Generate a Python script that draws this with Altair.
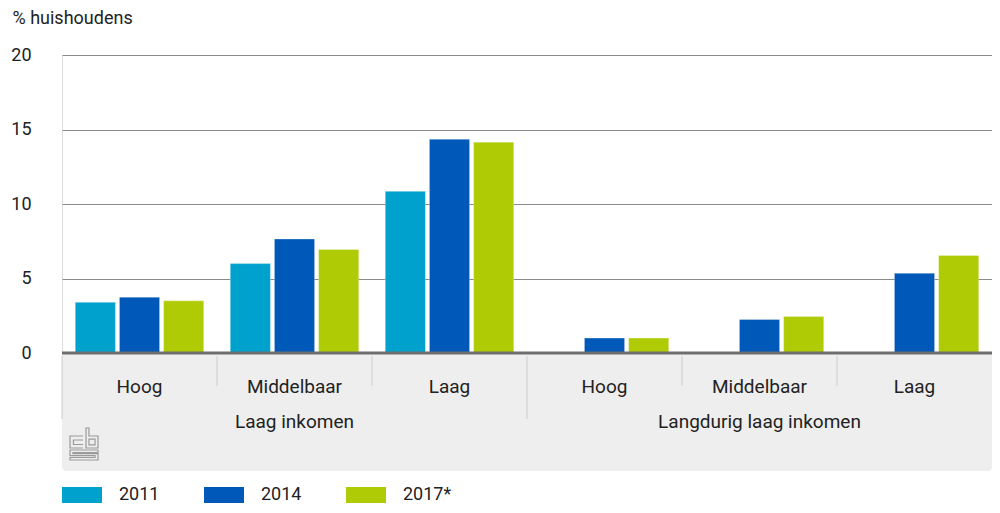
import altair as alt
import pandas as pd

groups = ["Laag inkomen", "Langdurig laag inkomen"]
subs = ["Hoog", "Middelbaar", "Laag"]
years = ["2011", "2014", "2017*"]
colors = ["#00a1cd", "#0058b8", "#afcb05"]

# values per year, in order: Laag inkomen (Hoog, Middelbaar, Laag), Langdurig (Hoog, Middelbaar, Laag)
v2011 = [3.4, 6.0, 10.85, None, None, None]
v2014 = [3.75, 7.65, 14.35, 1.0, 2.25, 5.35]
v2017 = [3.5, 6.95, 14.15, 1.0, 2.45, 6.55]

keys = [f"{g}|{s}" for g in groups for s in subs]
rows = []
for yr, vals in zip(years, [v2011, v2014, v2017]):
    for k, v in zip(keys, vals):
        rows.append({"key": k, "year": yr, "value": v})
bars_df = pd.DataFrame(rows)

lab_df = pd.DataFrame({"key": keys, "sub": [s for g in groups for s in subs]})
grp_df = pd.DataFrame({"key": [f"{g}|Middelbaar" for g in groups], "group": groups})
sep_df = pd.DataFrame({"key": keys, "long": [1, 0, 0, 1, 0, 0]})

FONT = "Roboto"
TXT = "#222222"
W, H = 930, 298

xscale = alt.Scale(domain=keys, paddingInner=0, paddingOuter=0)
xenc = alt.X("key:N", scale=xscale, axis=None)

base_bg = alt.Chart(pd.DataFrame({"a": [0]})).mark_rect(
    color="#eeeeee", cornerRadiusBottomLeft=4, cornerRadiusBottomRight=4
).encode(x=alt.value(0), x2=alt.value(W), y=alt.value(H), y2=alt.value(H + 118))

bars = alt.Chart(bars_df).mark_bar(stroke="white", strokeWidth=0.6, strokeOpacity=0.5).encode(
    x=xenc,
    xOffset=alt.XOffset("year:N", scale=alt.Scale(domain=years, paddingInner=0.0909, paddingOuter=0.3)),
    y=alt.Y("value:Q", scale=alt.Scale(domain=[0, 20]),
            axis=alt.Axis(values=[0, 5, 10, 15, 20], grid=True, gridColor="#8a8a8a", gridWidth=1,
                          domain=False, ticks=False, labelPadding=31, labelFont=FONT, labelFontSize=18,
                          labelColor=TXT, title="% huishoudens", titleAngle=0, titleAlign="left",
                          titleBaseline="middle", titleX=-50, titleY=-37, titleFont=FONT,
                          titleFontSize=18, titleFontWeight="normal", titleColor=TXT)),
    color=alt.Color("year:N", scale=alt.Scale(domain=years, range=colors),
                    legend=alt.Legend(orient="none", legendX=0, legendY=420, direction="horizontal",
                                      title=None, symbolType="M-1,-0.4H1V0.4H-1Z", symbolSize=1600,
                                      symbolStrokeWidth=0, labelFont=FONT, labelFontSize=18,
                                      labelColor=TXT, labelOffset=17, columnPadding=44,
                                      symbolOpacity=1)),
)

zero = alt.Chart(pd.DataFrame({"a": [0]})).mark_rule(color="#6e6e6e", strokeWidth=3).encode(
    y=alt.datum(0), x=alt.value(0), x2=alt.value(W))

seps_short = alt.Chart(sep_df).transform_filter("datum.long == 0").mark_rule(
    color="#cccccc", strokeWidth=1).encode(
    x=alt.X("key:N", scale=xscale, axis=None, bandPosition=0),
    y=alt.value(H + 3), y2=alt.value(H + 33))
seps_long = alt.Chart(sep_df).transform_filter("datum.long == 1").mark_rule(
    color="#cccccc", strokeWidth=1).encode(
    x=alt.X("key:N", scale=xscale, axis=None, bandPosition=0),
    y=alt.value(H + 3), y2=alt.value(H + 66))

sub_txt = alt.Chart(lab_df).mark_text(font=FONT, fontSize=19, color=TXT, baseline="alphabetic").encode(
    x=xenc, text="sub:N", y=alt.value(H + 40))
grp_txt = alt.Chart(grp_df).mark_text(font=FONT, fontSize=19, color=TXT, baseline="alphabetic").encode(
    x=xenc, text="group:N", y=alt.value(H + 75))

# rough outline of the CBS logo
LOGO = ("M-0.06,-0.5H-0.875V0.25H-0.06"
        "M-0.06,-0.25H-0.66V0.03H-0.06"
        "M0.125,-1V0.25H0.875V-0.5H0.31V-1Z"
        "M0.31,-0.31H0.69V0.06H0.31Z"
        "M0.875,0.375H-0.875V0.72H0.69V0.84H-0.875V1H0.875V0.6H-0.69V0.53H0.875Z")
logo = alt.Chart(pd.DataFrame({"a": [0]})).mark_point(
    shape=LOGO, filled=False, stroke="#9a9a9a", strokeWidth=1.2, size=1024, opacity=1
).encode(x=alt.value(22), y=alt.value(H + 91))

chart = alt.layer(base_bg, bars, zero, seps_short, seps_long, sub_txt, grp_txt, logo).properties(
    width=W, height=H, autosize=alt.AutoSizeParams(type="none"),
    padding={"left": 54, "top": 47, "right": 0, "bottom": 152},
).configure_view(stroke=None).configure(background="white")

chart.save("out.html", embed_options={"renderer": "svg", "actions": False})
